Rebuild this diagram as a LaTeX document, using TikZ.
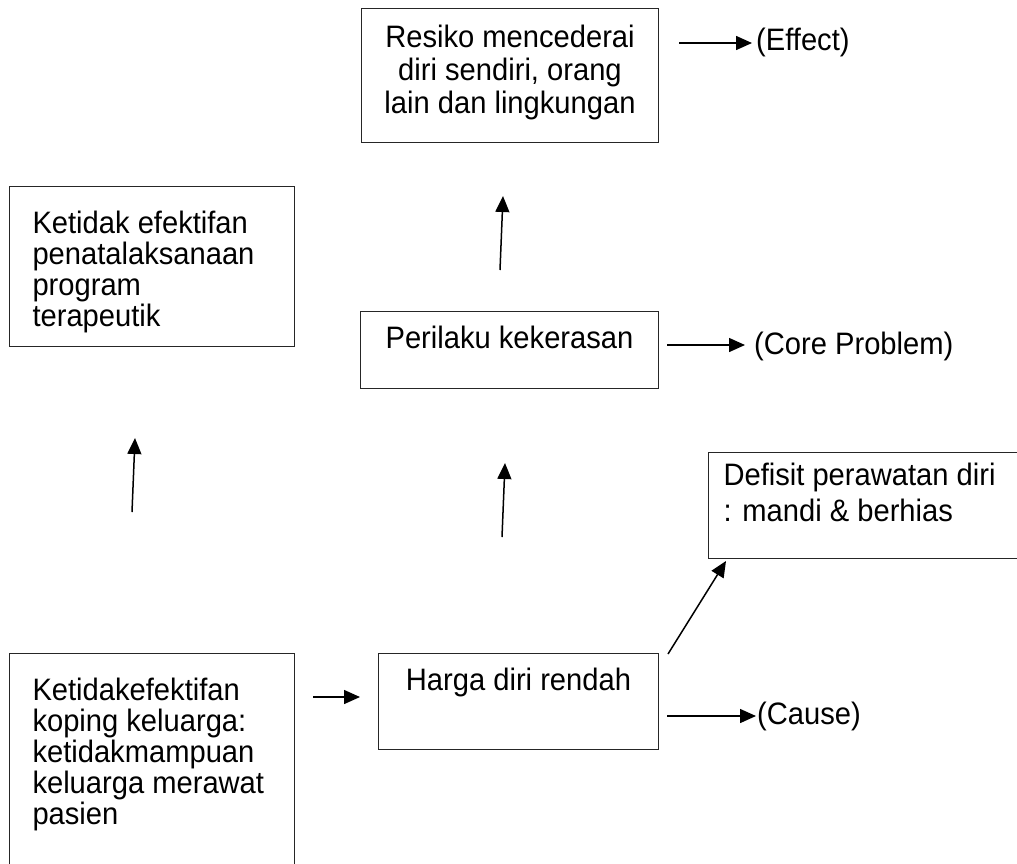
\documentclass[tikz,border=0pt]{standalone}
\usepackage{fontspec}
\setmainfont{Liberation Sans}[FakeStretch=0.94]
\usetikzlibrary{arrows.meta}
\tikzset{
  box/.style={draw=black!85, line width=1pt, rectangle, inner ysep=0pt, anchor=north west, fill=white},
  lbl/.style={inner sep=0pt, anchor=base west, font=\fontsize{31}{31}\selectfont},
  arr/.style={line width=1.5pt, -{Triangle[length=16pt,width=14pt]}}
}
\newcommand{\boxtxt}[6]{\parbox[t][#2][t]{#1}{\fontsize{31}{#4}\selectfont #5\rule{0pt}{#3}\ignorespaces #6}}
\begin{document}
\begin{tikzpicture}[x=1pt,y=-1pt]
\clip (0,0) rectangle (1017,863);
\fill[white] (0,0) rectangle (1017,863);
% boxes
\node[box, inner xsep=10pt] (resiko) at (361,8)
  {\boxtxt{277pt}{134pt}{39pt}{33pt}{\centering}{Resiko mencederai\\diri sendiri, orang\\lain dan lingkungan}};
\node[box, inner xsep=23pt] (program) at (9,186)
  {\boxtxt{239pt}{160pt}{47pt}{31pt}{\raggedright}{Ketidak efektifan\\penatalaksanaan\\program\\terapeutik}};
\node[box, inner xsep=10pt] (perilaku) at (360,311)
  {\boxtxt{278pt}{77pt}{37pt}{31pt}{\centering}{Perilaku kekerasan}};
\node[box, inner xsep=15pt] (defisit) at (708,452)
  {\boxtxt{302pt}{106pt}{33pt}{36pt}{\raggedright}{Defisit perawatan diri\\: mandi \& berhias}};
\node[box, inner xsep=10pt] (harga) at (378,653)
  {\boxtxt{260pt}{96pt}{37pt}{31pt}{\centering}{Harga diri rendah}};
\node[box, inner xsep=23pt] (koping) at (9,653)
  {\boxtxt{239pt}{240pt}{47pt}{31pt}{\raggedright}{Ketidakefektifan\\koping keluarga:\\ketidakmampuan\\keluarga merawat\\pasien}};
% arrow end points
\coordinate (eA) at (679,43);  \coordinate (eB) at (752,43);
\coordinate (cA) at (667,345); \coordinate (cB) at (745,345);
\coordinate (kA) at (667,716); \coordinate (kB) at (756,716);
\coordinate (u1A) at (500,270); \coordinate (u1B) at (503,196);
\coordinate (u2A) at (502,537); \coordinate (u2B) at (505,463);
\coordinate (u3A) at (132,512); \coordinate (u3B) at (135,438);
\coordinate (hA) at (313,697); \coordinate (hB) at (360,697);
\coordinate (dA) at (668,654); \coordinate (dB) at (726,561);
\draw[arr] (eA) -- (eB);
\draw[arr] (cA) -- (cB);
\draw[arr] (kA) -- (kB);
\draw[arr] (u1A) -- (u1B);
\draw[arr] (u2A) -- (u2B);
\draw[arr] (u3A) -- (u3B);
\draw[arr] (hA) -- (hB);
\draw[arr] (dA) -- (dB);
% labels
\node[lbl] (effect) at (756,50) {(Effect)};
\node[lbl] (core) at (754,354) {(Core Problem)};
\node[lbl] (cause) at (757,724) {(Cause)};
\end{tikzpicture}
\end{document}
